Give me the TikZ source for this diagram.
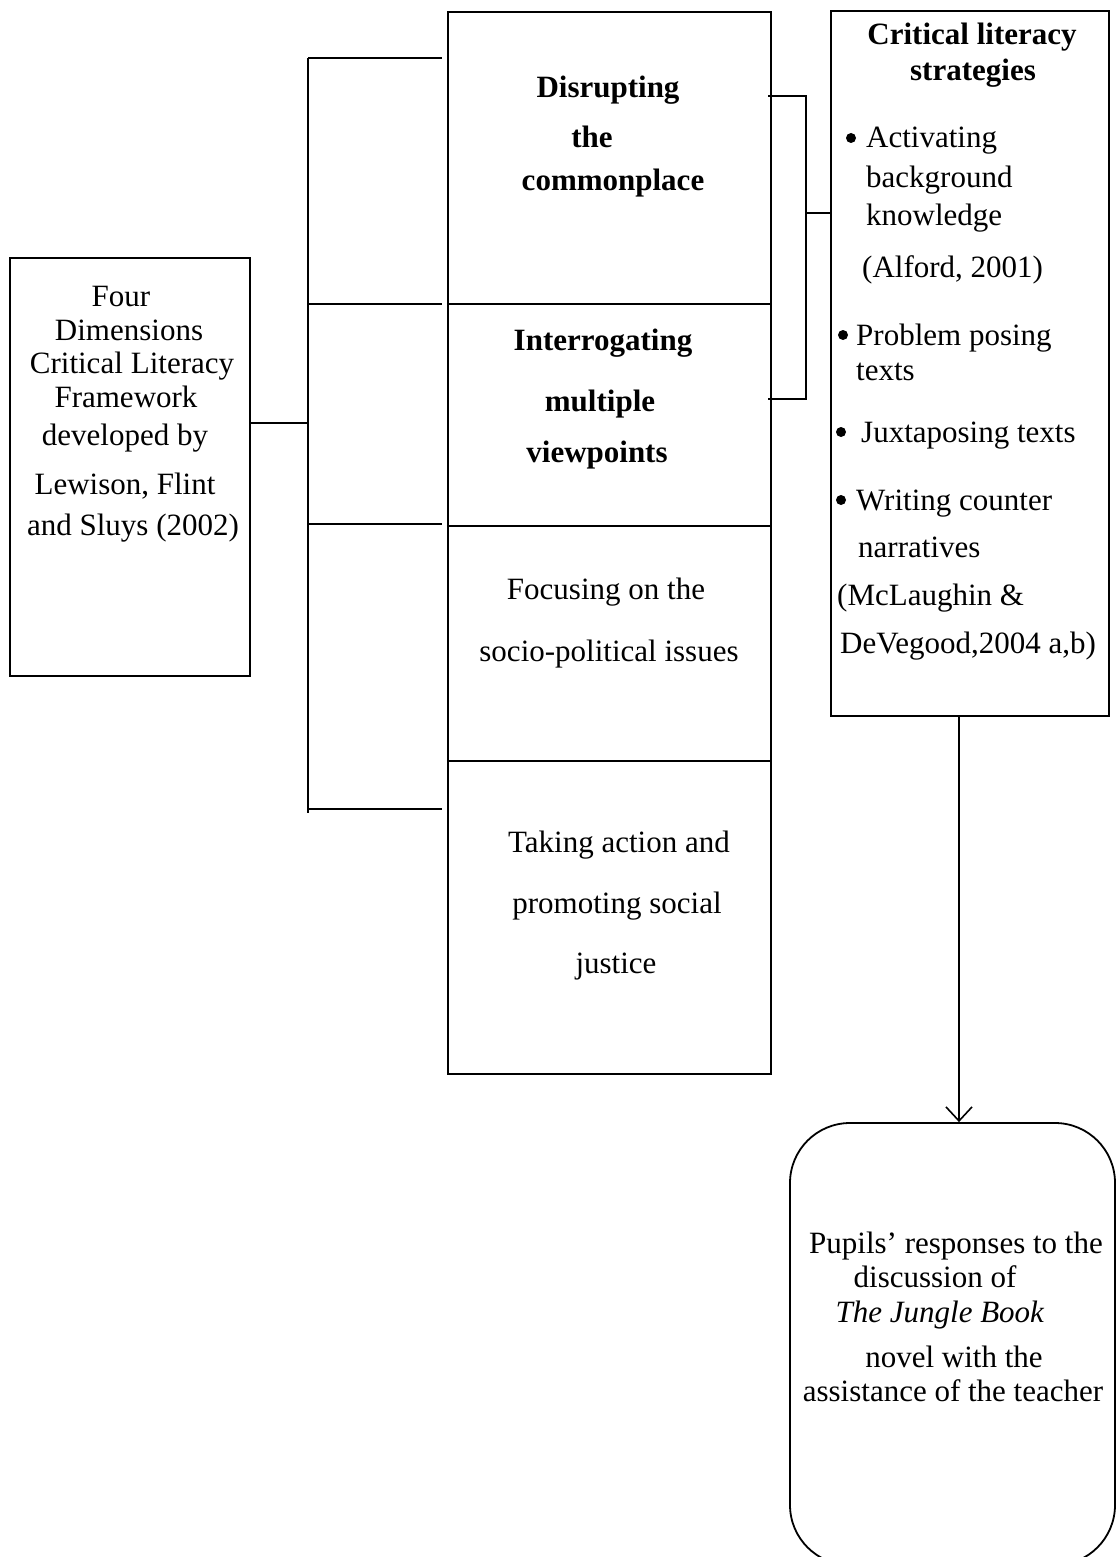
\documentclass[tikz,border=0pt]{standalone}
\usepackage{fontspec}
\setmainfont{Liberation Serif}
\usetikzlibrary{arrows.meta}

\begin{document}
\begin{tikzpicture}[x=1pt,y=-1pt,
    box/.style={draw, line width=1.8pt, inner sep=0pt},
    link/.style={line width=1.6pt},
    dot/.style={circle, fill, inner sep=0pt, minimum size=10pt},
    txt/.style={font=\fontsize{31}{36}\selectfont, inner sep=0pt, anchor=base},
    btxt/.style={txt, font=\fontsize{31}{36}\selectfont\bfseries}]
      \useasboundingbox (0,0) rectangle (1117,1557);
      \node[box, minimum width=240pt, minimum height=418pt] (frame) at (130,467) {};
      \node[box, line width=2.2pt, minimum width=323pt, minimum height=1062pt] (dims) at (609.5,543) {};
      \node[box, minimum width=278pt, minimum height=705pt] (strat) at (970,363.5) {};
      \node[box, rounded corners=60pt, minimum width=325pt, minimum height=442pt] (resp) at (952.5,1344) {};
      \foreach \yy in {304,526,761} \draw[box] (dims.west |- 0,\yy) -- (dims.east |- 0,\yy);
      \coordinate (spinetop) at (308,58);
      \coordinate (spinebot) at (308,813);
      \coordinate (fork) at (308,423);
      \coordinate (joint) at (806,213);
      \coordinate (drop) at (959,716);
      \draw[link] (spinetop) -- (spinebot);
      \draw[link] (fork -| frame.east) -- (fork);
      \foreach \yy in {58,304,524,809} \draw[link] (spinetop |- 0,\yy) -- ([xshift=-5pt]dims.west |- 0,\yy);
      \draw[link] ([xshift=-4pt]dims.east |- 0,96) -| (joint |- 0,399) -- ([xshift=-4pt]dims.east |- 0,399);
      \draw[link] (joint) -- (joint -| strat.west);
      \draw[link, -{Straight Barb[length=14pt,width=26pt]}] (drop) -- (drop |- resp.north);
      \foreach \xx/\yy/\t [count=\i] in {121/306/Four, 129/340/Dimensions, 132/373/Critical\hspace{8pt}Literacy, 126/407/Framework, 125/445/developed by, 125/494/{Lewison, Flint}, 133/535/and Sluys (2002)}
        \node[txt] (fw\i) at (\xx,\yy) {\t};
      \foreach \xx/\yy/\t [count=\i] in {608/98/Disrupting, 592/148/the, 613/190/commonplace, 603/350/Interrogating, 600/411/multiple, 597/462/viewpoints}
        \node[btxt] (dim\i) at (\xx,\yy) {\t};
      \foreach \xx/\yy/\t [count=\i] in {606/599/Focusing on the, 609/661/socio-political issues, 619/852/Taking action and, 617/913/promoting social, 616/973/justice}
        \node[txt] (act\i) at (\xx,\yy) {\t};
      \node[btxt] (head1) at (972,45) {Critical literacy};
      \node[btxt] (head2) at (973,81) {strategies};
      \foreach \xx/\yy [count=\i] in {851/138, 843/335, 841/432, 841/500}
        \node[dot] (bul\i) at (\xx,\yy) {};
      \foreach \xx/\yy/\t [count=\i] in {866/148/Activating, 866/188/background, 866/225/knowledge, 862/277/{(Alford, 2001)}, 856/345/Problem posing, 856/380/texts, 861/442/Juxtaposing texts, 856/510/Writing counter, 858/557/narratives, 837/605/(McLaughin \&, 840/653/{DeVegood,2004 a,b)}}
        \node[txt, anchor=base west] (st\i) at (\xx,\yy) {\t};
      \foreach \xx/\yy/\t [count=\i] in {956/1253/Pupils' responses to the, 935/1287/discussion of, 940/1322/\textit{The Jungle Book}, 954/1367/novel with the, 953/1401/assistance of the teacher}
        \node[txt] (pu\i) at (\xx,\yy) {\t};
    \end{tikzpicture}
\end{document}
